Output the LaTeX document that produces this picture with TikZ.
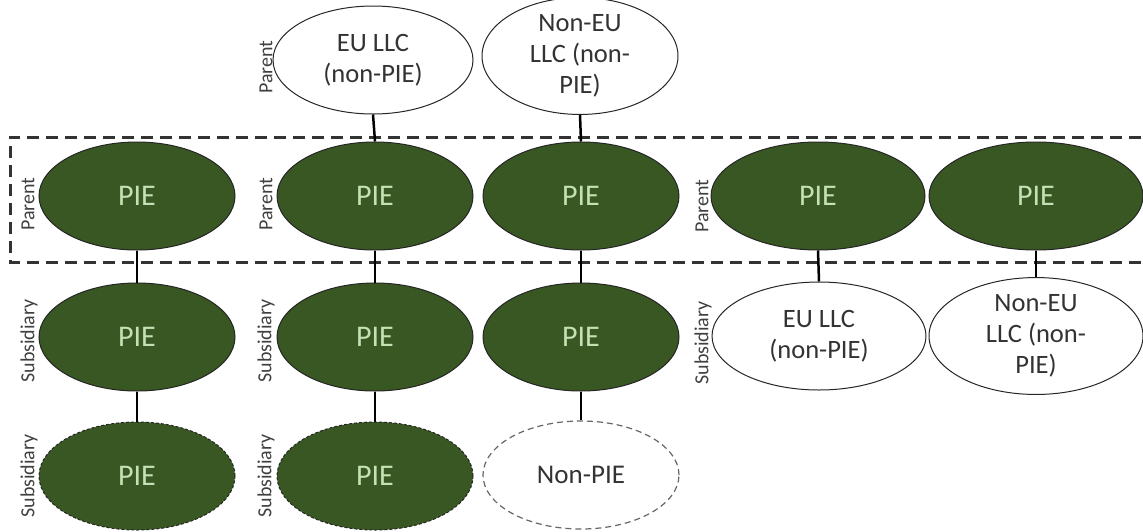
\documentclass[tikz,border=0pt]{standalone}
\usepackage{fontspec}
\setmainfont{Carlito}
\usetikzlibrary{shapes.geometric}
\definecolor{piegreen}{HTML}{385723}
\definecolor{pietext}{HTML}{C5E0B4}
\definecolor{labelgray}{HTML}{404040}
\tikzset{
  ent/.style={ellipse, draw=black!85, line width=1pt, inner sep=0pt, minimum height=108pt, align=center},
  narrow/.style={minimum width=196pt},
  wide/.style={minimum width=214pt},
  pie/.style={ent, fill=piegreen, text=pietext, font=\fontsize{30}{34}\selectfont},
  llc/.style={ent, fill=white, text=black!80, font=\fontsize{26.5}{31}\selectfont},
  piedash/.style={pie, dash pattern=on 3pt off 2pt},
  nonpiedash/.style={ent, fill=white, draw=black!60, line width=1.2pt, dash pattern=on 6pt off 4pt, text=black!80, font=\fontsize{27}{31}\selectfont},
  side/.style={rotate=90, text=labelgray, font=\fontsize{20}{22}\selectfont, inner sep=0pt},
  link/.style={draw=black, line width=2.5pt},
  box/.style={draw=black!80, line width=3pt, dash pattern=on 12pt off 7pt}
}
\begin{document}
\begin{tikzpicture}[x=1pt,y=-1pt]
\useasboundingbox (0,0) rectangle (1143,531);
\clip (0,0) rectangle (1143,531);
% dashed group box
\draw[box] (1160,137) -- (10,137) -- (10,262) -- (1160,262);
% top row
\node[llc, minimum width=200pt] (t2) at (373,60) {EU LLC\\(non-PIE)};
\node[llc, narrow] (t3) at (580,56) {Non-EU\\LLC (non-\\PIE)};
% row 2
\node[pie, narrow] (p1) at (137,196) {PIE};
\node[pie, narrow] (p2) at (375,196) {PIE};
\node[pie, narrow] (p3) at (581,196) {PIE};
\node[pie, wide] (p4) at (818,196) {PIE};
\node[pie, wide] (p5) at (1036,196) {PIE};
% row 3
\node[pie, narrow] (s1) at (137,337) {PIE};
\node[pie, narrow] (s2) at (375,337) {PIE};
\node[pie, narrow] (s3) at (581,337) {PIE};
\node[llc, wide] (s4) at (819,336) {EU LLC\\(non-PIE)};
\node[llc, wide] (s5) at (1036,336) {Non-EU\\LLC (non-\\PIE)};
% row 4
\node[piedash, narrow] (b1) at (137,476) {PIE};
\node[piedash, narrow] (b2) at (375,476) {PIE};
\node[nonpiedash, narrow] (b3) at (581,475) {Non-PIE};
% connectors
\draw[link] (t2.south) -- (p2.north);
\draw[link] (t3.south) -- (p3.north);
\draw[link] (p1.south) -- (s1.north);
\draw[link] (p2.south) -- (s2.north);
\draw[link] (p3.south) -- (s3.north);
\draw[link] (p4.south) -- (s4.north);
\draw[link] (p5.south) -- (s5.north);
\draw[link] (s1.south) -- (b1.north);
\draw[link] (s2.south) -- (b2.north);
\draw[link] (s3.south) -- (b3.north);
% side labels
\node[side] (l1) at (266,67) {Parent};
\node[side] (l2) at (28,204) {Parent};
\node[side] (l3) at (266,204) {Parent};
\node[side] (l4) at (702,206) {Parent};
\node[side] (l5) at (29,341) {Subsidiary};
\node[side] (l6) at (266,341) {Subsidiary};
\node[side] (l7) at (703,343) {Subsidiary};
\node[side] (l8) at (29,476) {Subsidiary};
\node[side] (l9) at (266,476) {Subsidiary};
\end{tikzpicture}
\end{document}
